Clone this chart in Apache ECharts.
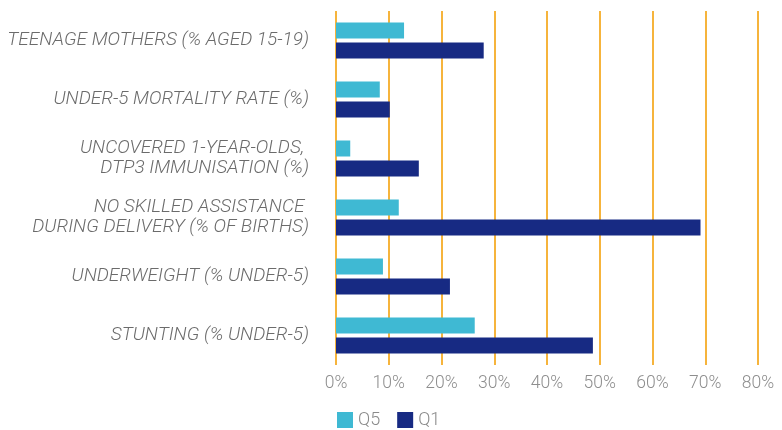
<!DOCTYPE html>
<html>
<head>
<meta charset="utf-8">
<script src="https://cdn.jsdelivr.net/npm/echarts@6/dist/echarts.min.js"></script>
<style>
  html, body { margin: 0; padding: 0; background: #fff; }
  #chart { width: 782px; height: 430px; }
</style>
</head>
<body>
<div id="chart"></div>
<script>
// categories, top to bottom
const categories = [
  "TEENAGE MOTHERS (% AGED 15-19)",
  "UNDER-5 MORTALITY RATE (%)",
  "UNCOVERED 1-YEAR-OLDS, \nDTP3 IMMUNISATION (%)",
  "NO SKILLED ASSISTANCE \nDURING DELIVERY (% OF BIRTHS)",
  "UNDERWEIGHT (% UNDER-5)",
  "STUNTING (% UNDER-5)",
];
// richest quintile
const q5 = [12.9, 8.3, 2.7, 11.9, 8.9, 26.3];
// poorest quintile
const q1 = [28.0, 10.2, 15.7, 69.1, 21.6, 48.7];

const chart = echarts.init(document.getElementById("chart"));

const option = {
  animation: false,
  textStyle: { fontFamily: "Roboto" },
  grid: {
    left: 336,
    right: 24,
    top: 11,
    bottom: 65,
  },
  legend: {
    left: 337,
    top: 411,
    padding: 0,
    itemWidth: 16,
    itemHeight: 16,
    itemGap: 17,
    icon: "rect",
    textStyle: { color: "#8a8a8a", fontSize: 18, fontWeight: 300, lineHeight: 18 },
    data: ["Q5", "Q1"],
  },
  xAxis: {
    type: "value",
    min: 0,
    max: 80,
    interval: 10,
    axisLine: { show: false },
    axisTick: { show: false },
    axisLabel: {
      formatter: "{value}%",
      color: "#8e8e8e",
      fontSize: 17.5,
      fontWeight: 300,
      margin: 10,
    },
    splitLine: {
      show: true,
      lineStyle: { color: "#F6B43C", width: 2 },
    },
  },
  yAxis: {
    type: "category",
    inverse: true,
    data: categories,
    axisLine: { show: false },
    axisTick: { show: false },
    axisLabel: {
      color: "#6b6b6b",
      fontSize: 19,
      fontStyle: "italic",
      fontWeight: 300,
      lineHeight: 20,
      margin: 27,
    },
  },
  series: [
    {
      name: "Q5",
      type: "bar",
      data: q5,
      barWidth: 16,
      barGap: "25%",
      itemStyle: { color: "#3FB9D3" },
    },
    {
      name: "Q1",
      type: "bar",
      data: q1,
      barWidth: 16,
      barGap: "25%",
      itemStyle: { color: "#172A83" },
    },
  ],
};

chart.setOption(option);
</script>
</body>
</html>
